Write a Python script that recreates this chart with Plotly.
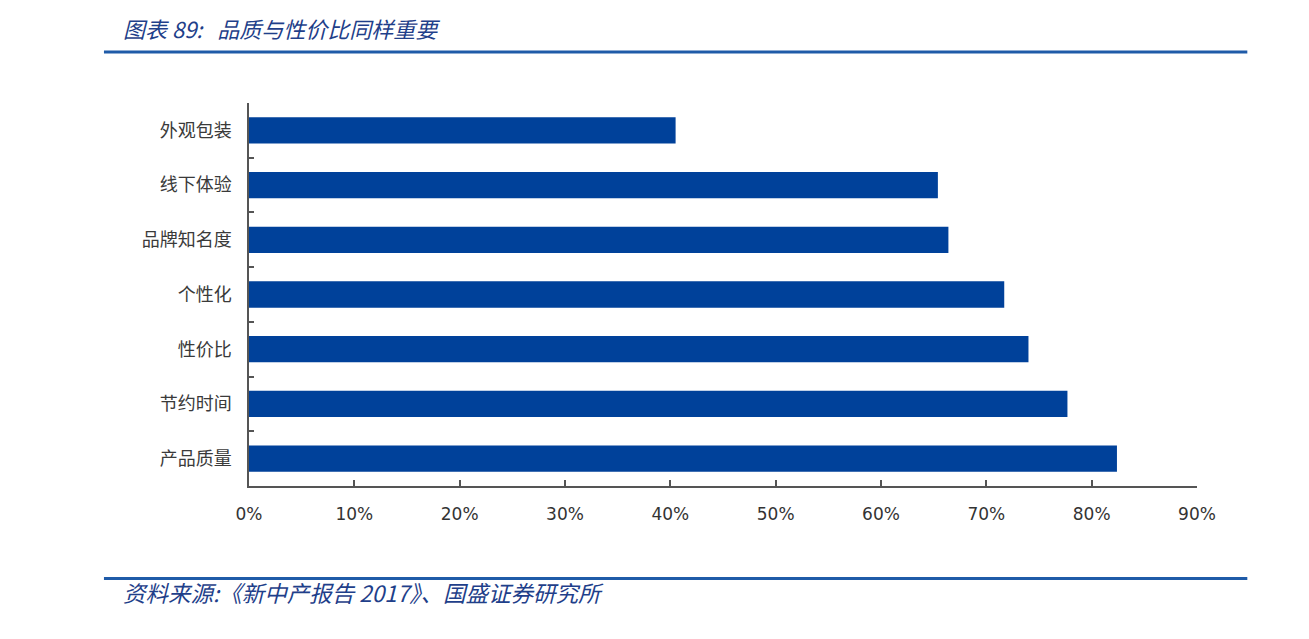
import plotly.graph_objects as go

categories = ["外观包装", "线下体验", "品牌知名度", "个性化", "性价比", "节约时间", "产品质量"]
values = [0.405, 0.654, 0.664, 0.717, 0.740, 0.777, 0.824]
x_tick_vals = [0, 0.1, 0.2, 0.3, 0.4, 0.5, 0.6, 0.7, 0.8, 0.9]
x_tick_text = ["0%", "10%", "20%", "30%", "40%", "50%", "60%", "70%", "80%", "90%"]

title_text = "图表 89:\u00a0\u00a0\u00a0品质与性价比同样重要"
source_text = "资料来源:《新中产报告 2017》、国盛证券研究所"

OFF = 8  # page body offset
W, H = 1309 - OFF, 639 - OFF
L, R, T, B = 249 - OFF, 1196.7 - OFF, 103 - OFF, 486.5 - OFF

def px(x):
    return (x - OFF - L) / (R - L)

def py(y):
    return (B - (y - OFF)) / (B - T)

fig = go.Figure(go.Bar(
    x=values, y=categories, orientation="h",
    marker=dict(color="#00419A", line=dict(width=0)),
    width=0.48,
))

blue = "#1F5BA8"
fig.update_layout(
    width=W, height=H,
    margin=dict(l=L, r=W - R, t=T, b=H - B, pad=0),
    paper_bgcolor="white", plot_bgcolor="white",
    showlegend=False,
    xaxis=dict(
        range=[0, 0.9], tickvals=x_tick_vals, ticktext=x_tick_text,
        showgrid=False, zeroline=False,
        showline=True, linecolor="#555555", linewidth=1.5,
        ticks="inside", ticklen=6, tickcolor="#555555", tickwidth=1.5,
        tickfont=dict(family="DejaVu Sans", size=17, color="#333333"),
        ticklabelstandoff=12,
    ),
    yaxis=dict(
        type="category", autorange="reversed",
        showgrid=False, zeroline=False,
        showline=True, linecolor="#555555", linewidth=1.5,
        ticks="inside", tickson="boundaries", ticklen=5, tickcolor="#555555", tickwidth=1.5,
        tickfont=dict(family="Noto Sans CJK SC", size=18, color="#3a3a3a"),
        ticklabelstandoff=12,
    ),
    shapes=[
        dict(type="line", xref="paper", yref="paper", x0=px(104), x1=px(1247), y0=py(52), y1=py(52),
             line=dict(color=blue, width=3)),
        dict(type="line", xref="paper", yref="paper", x0=px(104), x1=px(1247), y0=py(579), y1=py(579),
             line=dict(color=blue, width=3)),
    ],
    annotations=[
        dict(text="<i>" + title_text + "</i>", xref="paper", yref="paper", x=px(121), y=py(28),
             xanchor="left", yanchor="middle", showarrow=False,
             font=dict(family="Noto Sans CJK SC", size=22, color="#1F3F8A")),
        dict(text="<i>" + source_text + "</i>", xref="paper", yref="paper", x=px(121), y=py(593),
             xanchor="left", yanchor="middle", showarrow=False,
             font=dict(family="Noto Sans CJK SC", size=22.5, color="#1F3F8A")),
    ],
)

fig.write_html("out.html")
